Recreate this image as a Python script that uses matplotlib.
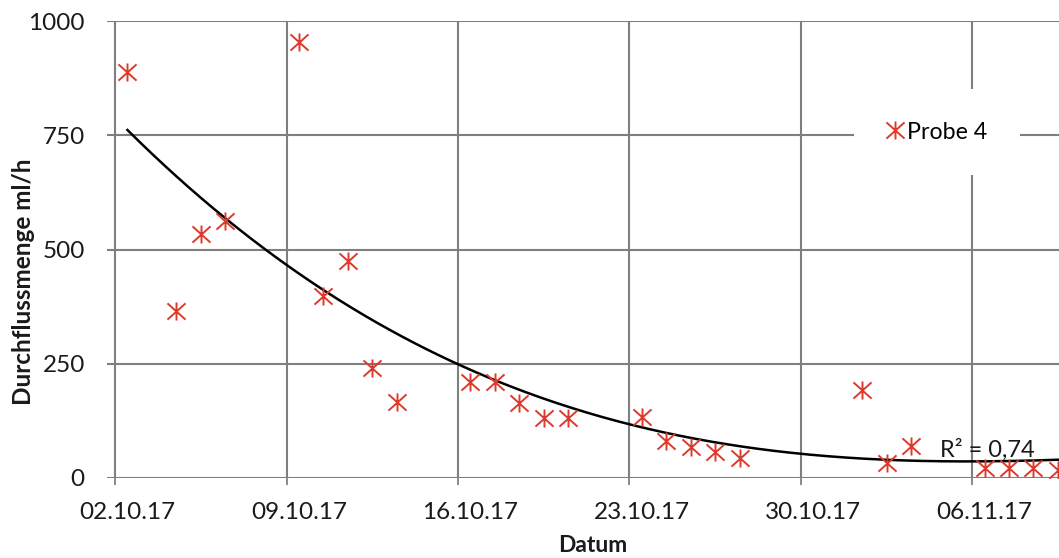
import numpy as np
import pandas as pd
import matplotlib
matplotlib.use("Agg")
import matplotlib.pyplot as plt
import matplotlib.dates as mdates
from matplotlib.path import Path

plt.rcParams['font.family'] = ['Lato', 'DejaVu Sans']

# Messwerte Probe 4
dates = ["02.10.17", "04.10.17", "05.10.17", "06.10.17", "09.10.17", "10.10.17",
         "11.10.17", "12.10.17", "13.10.17", "16.10.17", "17.10.17", "18.10.17",
         "19.10.17", "20.10.17", "23.10.17", "24.10.17", "25.10.17", "26.10.17",
         "27.10.17", "01.11.17", "02.11.17", "03.11.17", "06.11.17", "07.11.17",
         "08.11.17", "09.11.17"]
flow = [888, 365, 534, 562, 954, 398, 475, 241, 166, 210, 210, 164, 131,
        131, 133, 81, 68, 57, 44, 193, 33, 70, 22, 22, 22, 18]
tick_dates = ["02.10.17", "09.10.17", "16.10.17", "23.10.17", "30.10.17", "06.11.17"]
y_ticks = [0, 250, 500, 750, 1000]
series_name = "Probe 4"
r2_text = "R² = 0,74"

d = pd.to_datetime(dates, format="%d.%m.%y")
td = pd.to_datetime(tick_dates, format="%d.%m.%y")
# Excel date axis: points sit in the middle of the day
x = mdates.date2num(d + pd.Timedelta(hours=12))

# polynomial trendline (order 3, R² ~ 0.74)
x0 = x[0]
coef = np.polyfit(x - x0, flow, 3)
xs = np.linspace(x[0], x[-1], 300)
ys = np.polyval(coef, xs - x0)

# Excel "star" marker: X plus vertical stroke
star = Path([(-1, -0.9), (1, 0.9), (-1, 0.9), (1, -0.9), (0, -1), (0, 1)],
            [Path.MOVETO, Path.LINETO, Path.MOVETO, Path.LINETO, Path.MOVETO, Path.LINETO])
red = '#dc3a2c'

fig = plt.figure(figsize=(10.59, 5.58), dpi=100)
ax = fig.add_axes([107 / 1059, 80 / 558, 1 - 107 / 1059, 457 / 558])

ax.plot(xs, ys, color='black', lw=1.8, zorder=3)
ax.plot(x, flow, linestyle='none', marker=star, markersize=13, markeredgewidth=1.4,
        color=red, label=series_name, zorder=4)

ax.set_ylim(0, 1000)
ax.set_yticks(y_ticks)
ax.set_xlim(mdates.date2num(d[0] - pd.Timedelta(hours=8)),
            mdates.date2num(d[-1] + pd.Timedelta(hours=13)))

# gridlines at the dates, labels centered in the day
ax.set_xticks(mdates.date2num(td))
ax.set_xticklabels([])
ax.set_xticks(mdates.date2num(td + pd.Timedelta(hours=12)), minor=True)
ax.set_xticklabels(tick_dates, minor=True)
ax.tick_params(axis='x', which='major', length=5, width=1.2, color='#777777')
ax.tick_params(axis='x', which='minor', length=0, pad=17, labelsize=17.5, labelcolor='#1a1a1a')
ax.tick_params(axis='y', length=0, pad=16, labelsize=17.5, labelcolor='#1a1a1a')

ax.grid(True, which='major', color='#7f7f7f', lw=1.5)
ax.set_axisbelow(True)
for s in ax.spines.values():
    s.set_visible(False)

ax.set_ylabel('Durchflussmenge ml/h', fontsize=17.5, fontweight='bold', color='#1a1a1a')
ax.yaxis.set_label_coords(-0.076, 0.429)
ax.set_xlabel('Datum', fontsize=16.5, fontweight='bold', color='#1a1a1a')
ax.xaxis.set_label_coords(0.5105, -0.124)

ax.text(0.875, 0.046, r2_text, transform=ax.transAxes, fontsize=17, color='#1a1a1a',
        ha='left', va='baseline', zorder=5)

leg = ax.legend(loc='center', bbox_to_anchor=(0.872, 0.757), fontsize=16.7, frameon=True,
                framealpha=1, edgecolor='none', fancybox=False, numpoints=1,
                handlelength=0.7, handletextpad=0.2, borderpad=1.4)
leg.get_frame().set_facecolor('white')

plt.savefig('out.png', dpi=100)
plt.close()
